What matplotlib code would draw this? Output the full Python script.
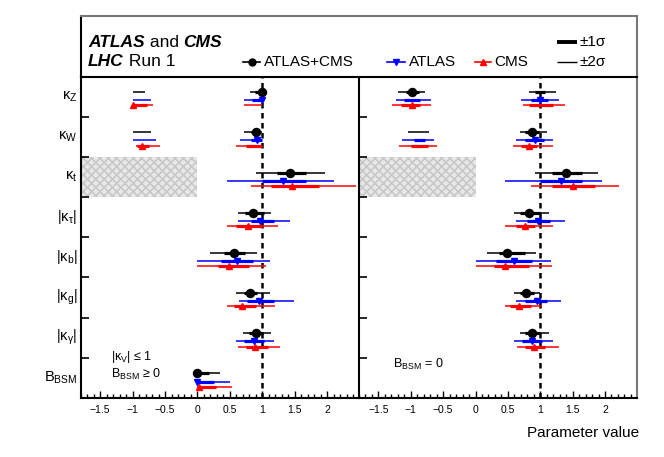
import matplotlib
matplotlib.use("Agg")
import matplotlib.pyplot as plt
from matplotlib.patches import Rectangle
from matplotlib.ticker import MultipleLocator, FixedLocator, NullFormatter

plt.rcParams["font.family"] = ["Liberation Sans", "DejaVu Sans"]
plt.rcParams["mathtext.fontset"] = "custom"
plt.rcParams["mathtext.rm"] = "Liberation Sans"
plt.rcParams["mathtext.it"] = "Liberation Sans:italic"
plt.rcParams["mathtext.bf"] = "Liberation Sans:bold"
plt.rcParams["hatch.linewidth"] = 1.2

# ---- данные: параметры сверху вниз ----
PARAMS = [r"$\mathregular{κ_Z}$", r"$\mathregular{κ_W}$", r"$\mathregular{κ_t}$",
          r"$\mathregular{|κ_τ|}$", r"$\mathregular{|κ_b|}$", r"$\mathregular{|κ_g|}$",
          r"$\mathregular{|κ_γ|}$", r"$\mathregular{B_{BSM}}$"]

# левая панель: |kV| <= 1, B_BSM >= 0
L_COMB_BEST = [1.00, 0.90, 1.43, 0.86, 0.57, 0.81, 0.90, 0.00]
L_COMB_1S = [[(0.89, 1.00)], [(0.82, 0.97)], [(1.22, 1.67)], [(0.74, 1.02)],
             [(0.41, 0.74)], [(0.71, 0.92)], [(0.80, 1.01)], [(0.00, 0.18)]]
L_COMB_2S = [[(-1.00, -0.81), (0.81, 1.00)], [(-1.00, -0.71), (0.71, 1.00)], [(0.90, 1.96)],
             [(0.63, 1.14)], [(0.20, 0.92)], [(0.60, 1.12)], [(0.70, 1.13)], [(0.00, 0.35)]]
L_ATLAS_BEST = [1.00, 0.92, 1.32, 0.97, 0.61, 0.95, 0.87, 0.00]
L_ATLAS_1S = [[(0.84, 1.00)], [(0.83, 1.00)], [(1.00, 1.67)], [(0.82, 1.18)],
              [(0.37, 0.86)], [(0.77, 1.18)], [(0.72, 1.03)], [(0.00, 0.26)]]
L_ATLAS_2S = [[(-1.00, -0.71), (0.72, 1.00)], [(-1.00, -0.64), (0.65, 1.00)], [(0.45, 2.11)],
              [(0.63, 1.42)], [(0.00, 1.12)], [(0.64, 1.49)], [(0.59, 1.18)], [(0.00, 0.50)]]
L_CMS_BEST = [-1.00, -0.85, 1.45, 0.78, 0.49, 0.69, 0.89, 0.03]
L_CMS_1S = [[(-1.00, -0.78)], [(-0.93, -0.74), (0.75, 1.00)], [(1.13, 1.88)], [(0.60, 1.00)],
            [(0.32, 0.79)], [(0.57, 0.90)], [(0.75, 1.08)], [(0.00, 0.28)]]
L_CMS_2S = [[(-1.00, -0.69), (0.72, 1.00)], [(-0.95, -0.58), (0.60, 1.00)], [(0.82, 2.44)],
            [(0.45, 1.24)], [(0.00, 1.06)], [(0.45, 1.20)], [(0.63, 1.27)], [(0.00, 0.53)]]

# правая панель: B_BSM = 0
R_COMB_BEST = [-0.98, 0.87, 1.40, 0.82, 0.48, 0.78, 0.87, None]
R_COMB_1S = [[(-1.08, -0.88), (0.92, 1.08)], [(0.77, 0.98)], [(1.18, 1.64)], [(0.69, 1.00)],
             [(0.36, 0.77)], [(0.69, 0.90)], [(0.77, 0.99)], []]
R_COMB_2S = [[(-1.19, -0.78), (0.82, 1.25)], [(-1.05, -0.72), (0.68, 1.11)], [(0.92, 1.89)],
             [(0.60, 1.14)], [(0.17, 0.94)], [(0.59, 1.00)], [(0.68, 1.13)], []]
R_ATLAS_BEST = [1.00, 0.92, 1.32, 0.96, 0.60, 0.95, 0.88, None]
R_ATLAS_1S = [[(-1.10, -0.85), (0.85, 1.12)], [(-0.95, -0.78), (0.77, 1.06)], [(1.00, 1.64)],
              [(0.79, 1.15)], [(0.31, 0.87)], [(0.77, 1.10)], [(0.72, 1.03)], []]
R_ATLAS_2S = [[(-1.23, -0.68), (0.71, 1.29)], [(-1.14, -0.64), (0.63, 1.20)], [(0.45, 1.96)],
              [(0.62, 1.38)], [(0.00, 1.17)], [(0.63, 1.32)], [(0.59, 1.19)], []]
R_CMS_BEST = [-0.98, 0.83, 1.51, 0.77, 0.46, 0.67, 0.90, None]
R_CMS_1S = [[(-1.15, -0.85), (0.82, 1.20)], [(-1.00, -0.73), (0.70, 0.95)], [(1.18, 1.84)],
            [(0.62, 0.92)], [(0.29, 0.82)], [(0.54, 0.85)], [(0.77, 1.08)], []]
R_CMS_2S = [[(-1.29, -0.68), (0.73, 1.38)], [(-1.18, -0.60), (0.58, 1.19)], [(0.86, 2.22)],
            [(0.45, 1.20)], [(0.00, 1.18)], [(0.45, 1.03)], [(0.64, 1.29)], []]

KT_ROW = 2          # kappa_t >= 0 -> заштрихованная область x < 0
XLIM = (-1.8, 2.49)
N = len(PARAMS)

W, H = 664, 457
fig = plt.figure(figsize=(W / 100, H / 100), dpi=100)
X0, XM, X1 = 80.7, 359.0, 636.7
YT, YB, YH = 76.5, 398.0, 16.0
axL = fig.add_axes([X0 / W, 1 - YB / H, (XM - X0) / W, (YB - YT) / H])
axR = fig.add_axes([XM / W, 1 - YB / H, (X1 - XM) / W, (YB - YT) / H])
axH = fig.add_axes([X0 / W, 1 - YT / H, (X1 - X0) / W, (YT - YH) / H])

GRAY = "#777777"


def series(ax, best, s1, s2, color, marker, off, ms):
    for i in range(N):
        y = N - i - off
        for lo, hi in s2[i]:
            ax.plot([lo, hi], [y, y], color=color, lw=1.1, solid_capstyle="butt", zorder=3)
        for lo, hi in s1[i]:
            ax.plot([lo, hi], [y, y], color=color, lw=2.3, solid_capstyle="butt", zorder=4)
        if best[i] is not None:
            ax.plot(best[i], y, marker=marker, color=color, ms=ms, ls="none", zorder=5)


for ax, data in [(axL, (L_COMB_BEST, L_COMB_1S, L_COMB_2S, L_ATLAS_BEST, L_ATLAS_1S, L_ATLAS_2S,
                        L_CMS_BEST, L_CMS_1S, L_CMS_2S)),
                 (axR, (R_COMB_BEST, R_COMB_1S, R_COMB_2S, R_ATLAS_BEST, R_ATLAS_1S, R_ATLAS_2S,
                        R_CMS_BEST, R_CMS_1S, R_CMS_2S))]:
    ax.set_xlim(*XLIM)
    ax.set_ylim(0, N)
    ax.add_patch(Rectangle((XLIM[0], N - KT_ROW - 1), -XLIM[0], 1, facecolor="#e8e8e8",
                           edgecolor="#c8c8c8", hatch="xxxx", lw=0, zorder=1))
    ax.axvline(1.0, color="k", lw=1.8, ls=(0, (2.2, 1.8)), zorder=2)
    series(ax, *data[0:3], "k", "o", 0.39, 5.8)
    series(ax, *data[3:6], "#0000ff", "v", 0.59, 5)
    series(ax, *data[6:9], "#ff0000", "^", 0.72, 5)

    ax.xaxis.set_major_locator(MultipleLocator(0.5))
    ax.xaxis.set_minor_locator(MultipleLocator(0.1))
    ax.set_xticks([-1.5, -1, -0.5, 0, 0.5, 1, 1.5, 2])
    ax.set_xticklabels(["\u22121.5", "\u22121", "\u22120.5", "0", "0.5", "1", "1.5", "2"])
    ax.yaxis.set_major_locator(FixedLocator(range(1, N)))
    ax.yaxis.set_major_formatter(NullFormatter())
    ax.tick_params(axis="x", which="major", direction="in", length=5, width=1, labelsize=7.5, pad=5)
    ax.tick_params(axis="x", which="minor", direction="in", length=2.6, width=1)
    ax.tick_params(axis="y", which="major", direction="in", length=5.5, width=1.2)
    for s in ["left", "bottom"]:
        ax.spines[s].set_linewidth(1.5)
    ax.spines["top"].set_visible(False)
    ax.spines["right"].set_color(GRAY)
    ax.spines["right"].set_linewidth(1.5)

axL.spines["right"].set_visible(False)

# подписи параметров
for i, lab in enumerate(PARAMS):
    axL.text(-0.012, (N - i - 0.5) / N, lab, transform=axL.transAxes, ha="right",
             va="center", fontsize=10.5)

axL.text(-1.33, 1.02, r"$\mathregular{|κ_V|}$ ≤ 1", fontsize=9, va="center")
axL.text(-1.33, 0.58, r"$\mathregular{B_{BSM}}$ ≥ 0", fontsize=9, va="center")
axR.text(-1.28, 0.83, r"$\mathregular{B_{BSM}}$ = 0", fontsize=9, va="center")

fig.text(639.5 / W, 1 - 433 / H, "Parameter value", ha="right", va="center", fontsize=11)

# ---- шапка ----
axH.set_xlim(X0, X1)
axH.set_ylim(YT, YH)
axH.set_xticks([])
axH.set_yticks([])
axH.spines["left"].set_linewidth(1.5)
axH.spines["bottom"].set_linewidth(1.5)
for s in ["top", "right"]:
    axH.spines[s].set_color(GRAY)
    axH.spines[s].set_linewidth(1.5)

t1 = axH.text(88, 42.5, "ATLAS", fontsize=12.5, fontweight="bold", fontstyle="italic", va="center")
t2 = axH.annotate(" and ", xy=(1, 0), xycoords=t1, va="bottom", fontsize=12.5)
axH.annotate("CMS", xy=(1, 0), xycoords=t2, va="bottom", fontsize=12.5,
             fontweight="bold", fontstyle="italic")
t3 = axH.text(88, 61.5, "LHC", fontsize=12.5, fontweight="bold", fontstyle="italic", va="center")
axH.annotate(" Run 1", xy=(1, 0), xycoords=t3, va="bottom", fontsize=12.5)

for x0, x1, c, m, lab in [(243, 260, "k", "o", "ATLAS+CMS"), (387, 405, "#0000ff", "v", "ATLAS"),
                          (475, 491, "#ff0000", "^", "CMS")]:
    axH.plot([x0, x1], [61.5, 61.5], color=c, lw=1.2)
    axH.plot((x0 + x1) / 2, 61.5, marker=m, color=c, ms=5)
    axH.text(x1 + 3.5, 61.8, lab, fontsize=11, va="center")

axH.plot([557, 577], [42, 42], color="k", lw=2.8, solid_capstyle="butt")
axH.text(580, 42, "±1σ", fontsize=11, va="center")
axH.plot([557, 577], [61.5, 61.5], color="k", lw=1.0, solid_capstyle="butt")
axH.text(580, 61.5, "±2σ", fontsize=11, va="center")

fig.savefig("out.png", dpi=100)
